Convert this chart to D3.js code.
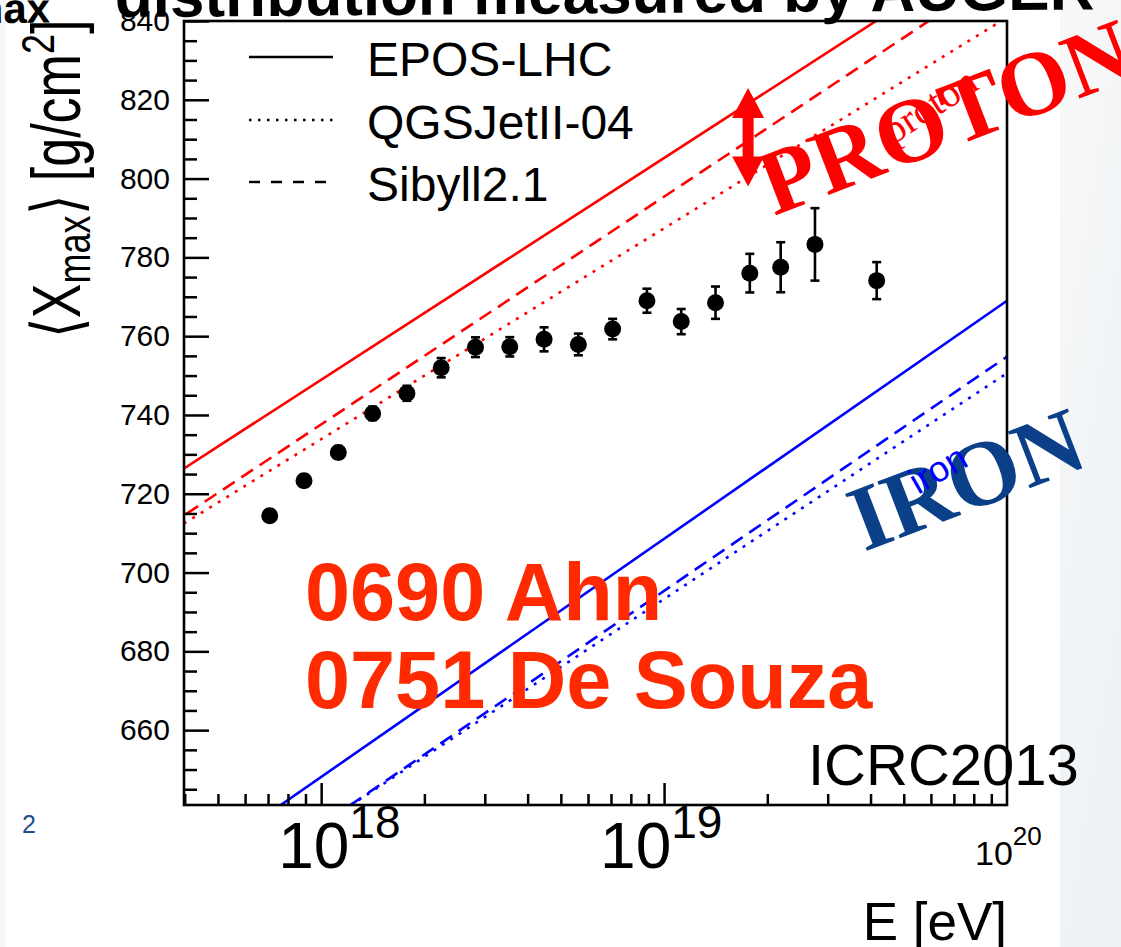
<!DOCTYPE html>
<html>
<head>
<meta charset="utf-8">
<script src="https://cdn.jsdelivr.net/npm/d3@7"></script>
<style>
  html, body { margin: 0; padding: 0; background: #fff; overflow: hidden; }
  svg { display: block; font-family: 'Liberation Sans', Arial, Helvetica, sans-serif; }
</style>
</head>
<body>
<svg id="xmax" width="1121" height="947"></svg>
<script>
// measured <Xmax> per energy bin, log10(E/eV)
const binLgE = [17.85, 17.95, 18.05, 18.15, 18.25, 18.35, 18.45, 18.55, 18.65, 18.75, 18.85, 18.95, 19.05, 19.15, 19.25, 19.34, 19.44, 19.62];
const xmaxMean = [714.4, 723.3, 730.5, 740.4, 745.5, 752.0, 757.2, 757.3, 759.2, 757.9, 761.8, 769.0, 763.7, 768.5, 776.0, 777.5, 783.3, 774.1];
const xmaxErr = [1.5, 1.5, 1.6, 1.7, 1.9, 2.45, 2.5, 2.45, 3.05, 2.75, 2.6, 3.05, 3.2, 4.1, 4.9, 6.35, 9.2, 4.7];

// model predictions (straight in log E), values at the two ends of modelLgE
const modelLgE = [17.5, 20.0];
const protonEpos = [720.8, 861.5];
const protonQgsjet = [707.1, 840.9];
const protonSibyll = [708.7, 853.2];
const ironEpos = [617.9, 769.0];
const ironQgsjet = [607.3, 750.6];
const ironSibyll = [606.2, 754.8];

const modelNames = ['EPOS-LHC', 'QGSJetII-04', 'Sibyll2.1'];
const yMajorTicks = [660, 680, 700, 720, 740, 760, 780, 800, 820, 840];
const decadeExponents = [18, 19, 20];

// spread between models around 2e19 eV
const spreadLgE = 19.245;
const spreadEnds = [823, 798];

(() => {
  const svg = d3.select('svg#xmax');
  const frame = { left: 184, right: 1007, top: 21, bottom: 805 };

  const x = d3.scaleLog()
    .domain([Math.pow(10, 17.6), 1e20])
    .range([frame.left, frame.right]);
  const y = d3.scaleLinear()
    .domain([641, 840])
    .range([frame.bottom, frame.top]);
  const E = lg => Math.pow(10, lg);

  // slide background bits
  const defs = svg.append('defs');
  const grad = defs.append('linearGradient').attr('id', 'side')
    .attr('x1', 0).attr('y1', 0).attr('x2', 0.4).attr('y2', 1);
  grad.append('stop').attr('offset', 0).attr('stop-color', '#f8f8f8');
  grad.append('stop').attr('offset', 1).attr('stop-color', '#edf2f6');
  svg.append('rect').attr('x', 1060).attr('y', 0).attr('width', 61).attr('height', 947).attr('fill', 'url(#side)');
  svg.append('rect').attr('x', 0).attr('y', 0).attr('width', 6).attr('height', 947).attr('fill', '#f7f7f7');

  defs.append('clipPath').attr('id', 'frameClip')
    .append('rect')
    .attr('x', frame.left).attr('y', frame.top)
    .attr('width', frame.right - frame.left).attr('height', frame.bottom - frame.top);

  // slide title, mostly cut off at the top
  const title = svg.append('text')
    .attr('transform', 'translate(0,18) rotate(-0.45)')
    .attr('font-weight', 'bold')
    .attr('font-size', 62)
    .attr('fill', '#000');
  title.append('tspan').attr('x', -34).attr('font-size', 42).attr('dy', 5).text('max');
  title.append('tspan').attr('x', 115).attr('dy', -5).text('distribution measured by AUGER');

  svg.append('text')
    .attr('x', 22).attr('y', 833)
    .attr('font-size', 25)
    .attr('fill', '#1f4e8c')
    .text('2');

  // model curves
  const line = d3.line()
    .x((d, i) => x(E(modelLgE[i])))
    .y(d => y(d));
  const dashes = { solid: null, dotted: '3,7', dashed: '14,8' };
  const models = [
    { values: protonEpos, color: '#ff0000', style: 'solid' },
    { values: protonSibyll, color: '#ff0000', style: 'dashed' },
    { values: protonQgsjet, color: '#ff0000', style: 'dotted' },
    { values: ironEpos, color: '#0000ff', style: 'solid' },
    { values: ironSibyll, color: '#0000ff', style: 'dashed' },
    { values: ironQgsjet, color: '#0000ff', style: 'dotted' },
  ];
  svg.append('g')
    .attr('clip-path', 'url(#frameClip)')
    .selectAll('path')
    .data(models)
    .enter()
    .append('path')
      .attr('d', d => line(d.values))
      .attr('fill', 'none')
      .attr('stroke', d => d.color)
      .attr('stroke-width', 2.6)
      .attr('stroke-dasharray', d => dashes[d.style]);

  // axes: ticks drawn inside the frame
  const minorY = d3.range(645, 841, 5).filter(v => v % 20 !== 0);
  svg.append('g')
    .attr('transform', `translate(${frame.left},0)`)
    .call(d3.axisLeft(y).tickValues(minorY).tickSize(-13).tickFormat(''))
    .call(g => g.select('.domain').remove());
  svg.append('g')
    .attr('transform', `translate(${frame.left},0)`)
    .call(d3.axisLeft(y).tickValues(yMajorTicks).tickSize(-25).tickPadding(14).tickFormat(d3.format('d')))
    .call(g => g.select('.domain').remove())
    .call(g => g.selectAll('text').attr('font-size', 30).attr('font-family', "'Liberation Sans', Arial, sans-serif").attr('fill', '#000'));

  const minorX = [];
  [17, 18, 19].forEach(p => d3.range(2, 10).forEach(m => {
    const v = m * Math.pow(10, p);
    if (v >= x.domain()[0]) minorX.push(v);
  }));
  svg.append('g')
    .attr('transform', `translate(0,${frame.bottom})`)
    .call(d3.axisBottom(x).tickValues(minorX).tickSize(-11).tickFormat(''))
    .call(g => g.select('.domain').remove());
  svg.append('g')
    .attr('transform', `translate(0,${frame.bottom})`)
    .call(d3.axisBottom(x).tickValues([1e18, 1e19]).tickSize(-22).tickFormat(''))
    .call(g => g.select('.domain').remove());
  svg.selectAll('.tick line').attr('stroke', '#000').attr('stroke-width', 2.5);

  svg.append('rect')
    .attr('x', frame.left).attr('y', frame.top)
    .attr('width', frame.right - frame.left).attr('height', frame.bottom - frame.top)
    .attr('fill', 'none')
    .attr('stroke', '#000')
    .attr('stroke-width', 2.6);

  // decade labels 10^n: [size, exponent size, exponent rise, offset from tick, baseline]
  const labelStyle = { 18: [64, 46, -30, -43, 868], 19: [64, 46, -30, -64, 868], 20: [34, 26, -20, -32, 865] };
  decadeExponents.forEach(p => {
    const [big, small, rise, offset, base] = labelStyle[p];
    const t = svg.append('text')
      .attr('x', x(E(p)) + offset)
      .attr('y', base)
      .attr('font-size', big)
      .attr('fill', '#000');
    t.append('tspan').text('10');
    t.append('tspan').attr('font-size', small).attr('dy', rise).text(p);
  });

  svg.append('text')
    .attr('x', frame.right).attr('y', 940)
    .attr('text-anchor', 'end')
    .attr('font-size', 53)
    .text('E [eV]');

  // y title
  const yt = svg.append('text')
    .attr('transform', 'translate(80,338) rotate(-90) scale(1,1.3)')
    .attr('font-size', 52)
    .attr('fill', '#000');
  yt.append('tspan').text('\u27E8X');
  yt.append('tspan').attr('font-size', 36).attr('dy', 8).text('max');
  yt.append('tspan').attr('dy', -8).text('\u27E9 [g/cm');
  yt.append('tspan').attr('font-size', 36).attr('dy', -20).text('2');
  yt.append('tspan').attr('dy', 20).text(']');

  // data points with error bars
  const pts = svg.append('g').selectAll('g')
    .data(binLgE.map((lg, i) => ({ lg, v: xmaxMean[i], e: xmaxErr[i] })))
    .enter()
    .append('g')
    .attr('transform', d => `translate(${x(E(d.lg))},0)`);
  pts.append('line')
    .attr('y1', d => y(d.v - d.e)).attr('y2', d => y(d.v + d.e))
    .attr('stroke', '#000').attr('stroke-width', 2.6);
  pts.selectAll('.cap')
    .data(d => [d.v - d.e, d.v + d.e])
    .enter()
    .append('line')
    .attr('class', 'cap')
    .attr('x1', -4.5).attr('x2', 4.5)
    .attr('y1', v => y(v)).attr('y2', v => y(v))
    .attr('stroke', '#000').attr('stroke-width', 2.6);
  pts.append('circle')
    .attr('cy', d => y(d.v))
    .attr('r', 8.5)
    .attr('fill', '#000');

  // legend
  const legend = svg.append('g');
  const legendStyles = ['solid', 'dotted', 'dashed'];
  const legendY = [57, 120, 182];
  modelNames.forEach((name, i) => {
    legend.append('line')
      .attr('x1', 249).attr('x2', 333)
      .attr('y1', legendY[i]).attr('y2', legendY[i])
      .attr('stroke', '#000')
      .attr('stroke-width', 2.4)
      .attr('stroke-dasharray', legendStyles[i] === 'dotted' ? '2.5,6.5' : legendStyles[i] === 'dashed' ? '11,11' : null);
    legend.append('text')
      .attr('x', 367).attr('y', legendY[i] + 19)
      .attr('font-size', 48)
      .attr('fill', '#000')
      .text(name);
  });

  // red arrow marking the model spread
  const ax = x(E(spreadLgE));
  const yTop = y(spreadEnds[0]);
  const yBot = y(spreadEnds[1]);
  const head = 30;
  const arrow = d3.path();
  arrow.moveTo(ax, yTop);
  arrow.lineTo(ax + 16, yTop + head);
  arrow.lineTo(ax + 5.5, yTop + head);
  arrow.lineTo(ax + 5.5, yBot - head);
  arrow.lineTo(ax + 16, yBot - head);
  arrow.lineTo(ax, yBot);
  arrow.lineTo(ax - 16, yBot - head);
  arrow.lineTo(ax - 5.5, yBot - head);
  arrow.lineTo(ax - 5.5, yTop + head);
  arrow.lineTo(ax - 16, yTop + head);
  arrow.closePath();
  svg.append('path').attr('d', arrow.toString()).attr('fill', '#ff0000');

  // annotations
  const serif = "'Liberation Serif', 'Times New Roman', serif";
  svg.append('text')
    .attr('transform', 'translate(774,216) rotate(-21)')
    .attr('font-family', serif).attr('font-weight', 'bold')
    .attr('font-size', 92).attr('fill', '#ff0000')
    .text('PROTON');
  svg.append('text')
    .attr('transform', 'translate(893,145) rotate(-33)')
    .attr('font-family', serif)
    .attr('font-size', 40).attr('fill', '#ff0000')
    .text('proton');
  svg.append('text')
    .attr('transform', 'translate(864,552) rotate(-21)')
    .attr('font-family', serif).attr('font-weight', 'bold')
    .attr('font-size', 93).attr('fill', '#0b3f88')
    .text('IRON');
  svg.append('text')
    .attr('transform', 'translate(918,495) rotate(-30)')
    .attr('font-size', 36).attr('fill', '#0000ff')
    .text('iron');

  svg.append('text')
    .attr('x', 808).attr('y', 785)
    .attr('font-size', 58).attr('fill', '#000')
    .text('ICRC2013');

  const talks = svg.append('g')
    .attr('font-size', 81).attr('font-weight', 'bold').attr('fill', '#ff2a00');
  talks.append('text').attr('x', 305).attr('y', 620).text('0690 Ahn');
  talks.append('text').attr('x', 305).attr('y', 708).text('0751 De Souza');
})();
</script>
</body>
</html>
